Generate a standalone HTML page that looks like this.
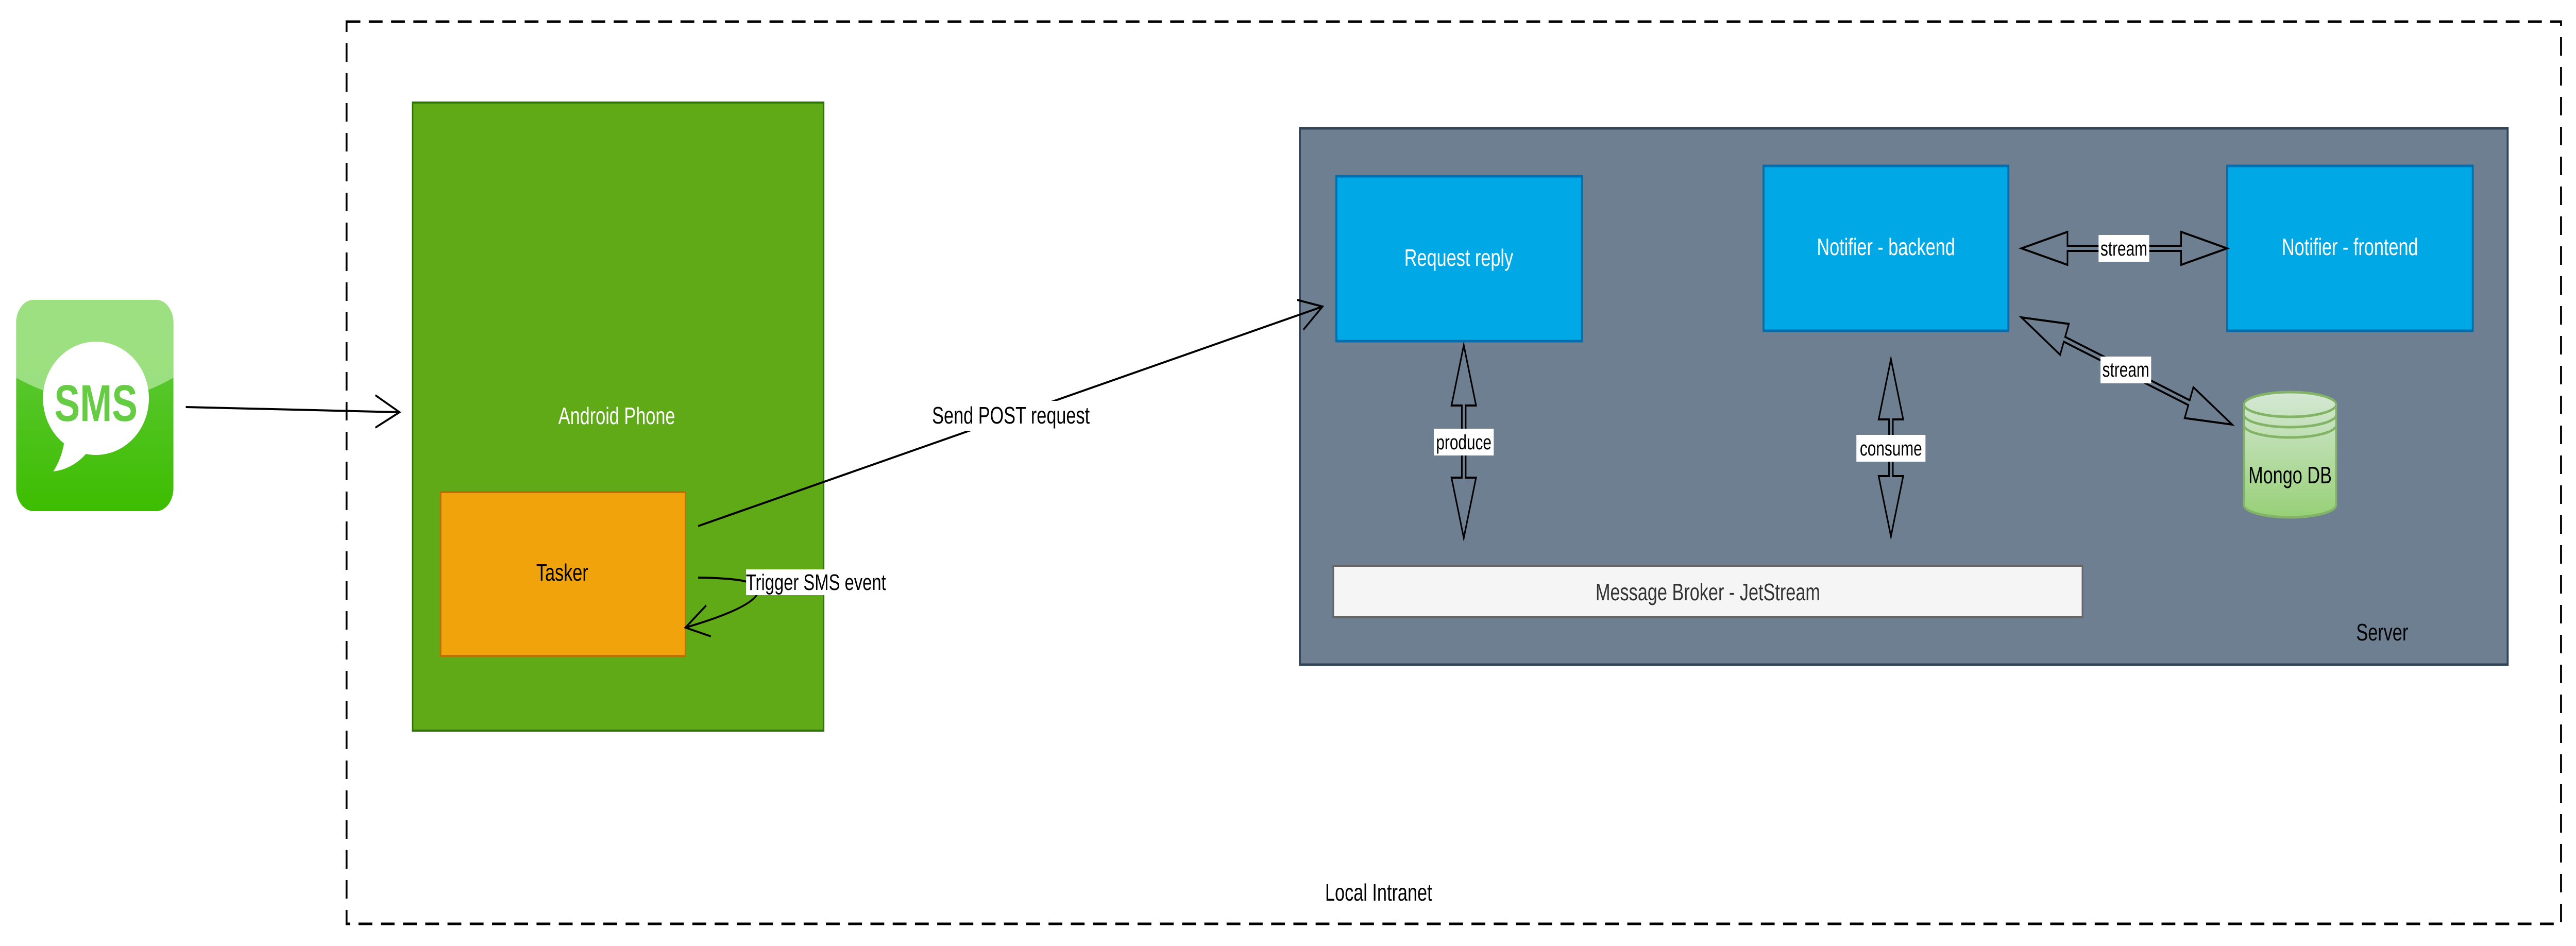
<!DOCTYPE html>
<html><head><meta charset="utf-8"><style>
html,body{margin:0;padding:0;background:#fff;width:100%;height:100%;overflow:hidden;}
svg{display:block;width:100vw;height:100vh;}
text{font-family:"Liberation Sans",Arial,sans-serif;}
</style></head><body>
<svg viewBox="0 0 6712 1836" preserveAspectRatio="none" xmlns="http://www.w3.org/2000/svg">
<defs>
<linearGradient id="g" x1="0" y1="0" x2="0" y2="1">
<stop offset="0" stop-color="#66cc44"/><stop offset="1" stop-color="#3dbd00"/></linearGradient>
<linearGradient id="db" x1="0" y1="0" x2="0" y2="1">
<stop offset="0" stop-color="#d5e8d4"/><stop offset="1" stop-color="#97d077"/></linearGradient>
<clipPath id="ic"><rect x="42" y="582" width="410" height="410" rx="45"/></clipPath>
</defs>

<rect x="903" y="42" width="5770" height="1751" fill="none" stroke="#000" stroke-width="5" stroke-dasharray="36 22"/>
<text x="3592" y="1748" font-size="46" text-anchor="middle">Local Intranet</text>

<g clip-path="url(#ic)">
<rect x="42" y="582" width="410" height="410" fill="url(#g)"/>
<path d="M42 582 H452 V733 Q250 820 42 733 Z" fill="#a3e28a" opacity="0.9"/>
</g>
<ellipse cx="250" cy="773" rx="138" ry="110" fill="#fff"/>
<path d="M167 860 Q160 890 139 915 Q190 910 225 880 Z" fill="#fff"/>
<text x="250" y="817" font-size="100" font-weight="bold" fill="#66cc44" text-anchor="middle" font-family="DejaVu Sans,Liberation Sans,sans-serif">SMS</text>

<line x1="484" y1="790" x2="1041" y2="800" stroke="#000" stroke-width="4"/>
<polyline points="978,767 1041,800 978,830" fill="none" stroke="#000" stroke-width="4"/>

<rect x="1075" y="199" width="1071" height="1219" fill="#60a917" stroke="#2d7600" stroke-width="4"/>
<text x="1607" y="823" font-size="46" fill="#fff" text-anchor="middle">Android Phone</text>
<rect x="1148" y="955" width="638" height="318" fill="#f0a30a" stroke="#bd7000" stroke-width="4"/>
<text x="1465" y="1127" font-size="46" fill="#000" text-anchor="middle">Tasker</text>

<rect x="3387" y="249" width="3147" height="1041" fill="#6d7f90" stroke="#314354" stroke-width="5"/>
<text x="6207" y="1243" font-size="46" text-anchor="middle">Server</text>
<rect x="3482" y="342" width="640" height="320" fill="#00a8e6" stroke="#006eaf" stroke-width="5"/>
<text x="3801" y="516" font-size="46" fill="#fff" text-anchor="middle">Request reply</text>
<rect x="4595" y="322" width="638" height="320" fill="#00a8e6" stroke="#006eaf" stroke-width="5"/>
<text x="4914" y="495" font-size="46" fill="#fff" text-anchor="middle">Notifier - backend</text>
<rect x="5803" y="322" width="640" height="320" fill="#00a8e6" stroke="#006eaf" stroke-width="5"/>
<text x="6123" y="495" font-size="46" fill="#fff" text-anchor="middle">Notifier - frontend</text>
<rect x="3474" y="1098" width="1952" height="100" fill="#f5f5f5" stroke="#666" stroke-width="4"/>
<text x="4450" y="1165" font-size="46" fill="#333" text-anchor="middle">Message Broker - JetStream</text>

<path d="M5847 785 A120 24 0 0 1 6087 785 V980 A120 24 0 0 1 5847 980 Z" fill="url(#db)" stroke="#82b366" stroke-width="5"/>
<path d="M5847 785 A120 24 0 0 0 6087 785 M5847 805 A120 24 0 0 0 6087 805 M5847 825 A120 24 0 0 0 6087 825" fill="none" stroke="#82b366" stroke-width="5"/>
<text x="5967" y="938" font-size="46" text-anchor="middle">Mongo DB</text>

<g fill="none" stroke="#000" stroke-width="4" stroke-linejoin="miter">
<polygon transform="translate(5267,482)" points="0,0 120,-32 120,-5 416,-5 416,-32 536,0 416,32 416,5 120,5 120,32"/>
<polygon transform="translate(5267,616) rotate(20.75)" points="0,0 120,-32 120,-5 467,-5 467,-32 587,0 467,32 467,5 120,5 120,32"/>
<polygon transform="translate(3814,670) rotate(90)" points="0,0 117,-32 117,-5 257,-5 257,-32 374,0 257,32 257,5 117,5 117,32"/>
<polygon transform="translate(4927,697) rotate(90)" points="0,0 117,-32 117,-5 227,-5 227,-32 344,0 227,32 227,5 117,5 117,32"/>
</g>
<rect x="5468" y="456" width="132" height="52" fill="#fff"/>
<text x="5534" y="496" font-size="40" text-anchor="middle">stream</text>
<rect x="5473" y="692" width="132" height="52" fill="#fff"/>
<text x="5539" y="731" font-size="40" text-anchor="middle">stream</text>
<rect x="3736" y="832" width="156" height="52" fill="#fff"/>
<text x="3814" y="872" font-size="40" text-anchor="middle">produce</text>
<rect x="4837" y="844" width="180" height="52" fill="#fff"/>
<text x="4927" y="884" font-size="40" text-anchor="middle">consume</text>

<line x1="1819" y1="1021" x2="3446" y2="595" stroke="#000" stroke-width="4"/>
<polyline points="3380,582 3446,595 3396,640" fill="none" stroke="#000" stroke-width="4"/>
<rect x="2436" y="778" width="396" height="58" fill="#fff"/>
<text x="2634" y="822" font-size="46" text-anchor="middle">Send POST request</text>

<path d="M1819 1121 Q1920 1122 1950 1130" fill="none" stroke="#000" stroke-width="4"/>
<path d="M1975 1150 Q1960 1180 1786 1218" fill="none" stroke="#000" stroke-width="4"/>
<polyline points="1840,1175 1786,1218 1852,1235" fill="none" stroke="#000" stroke-width="4"/>
<rect x="1944" y="1105" width="364" height="50" fill="#fff"/>
<text x="2126" y="1145" font-size="44" text-anchor="middle">Trigger SMS event</text>
</svg>
</body></html>
